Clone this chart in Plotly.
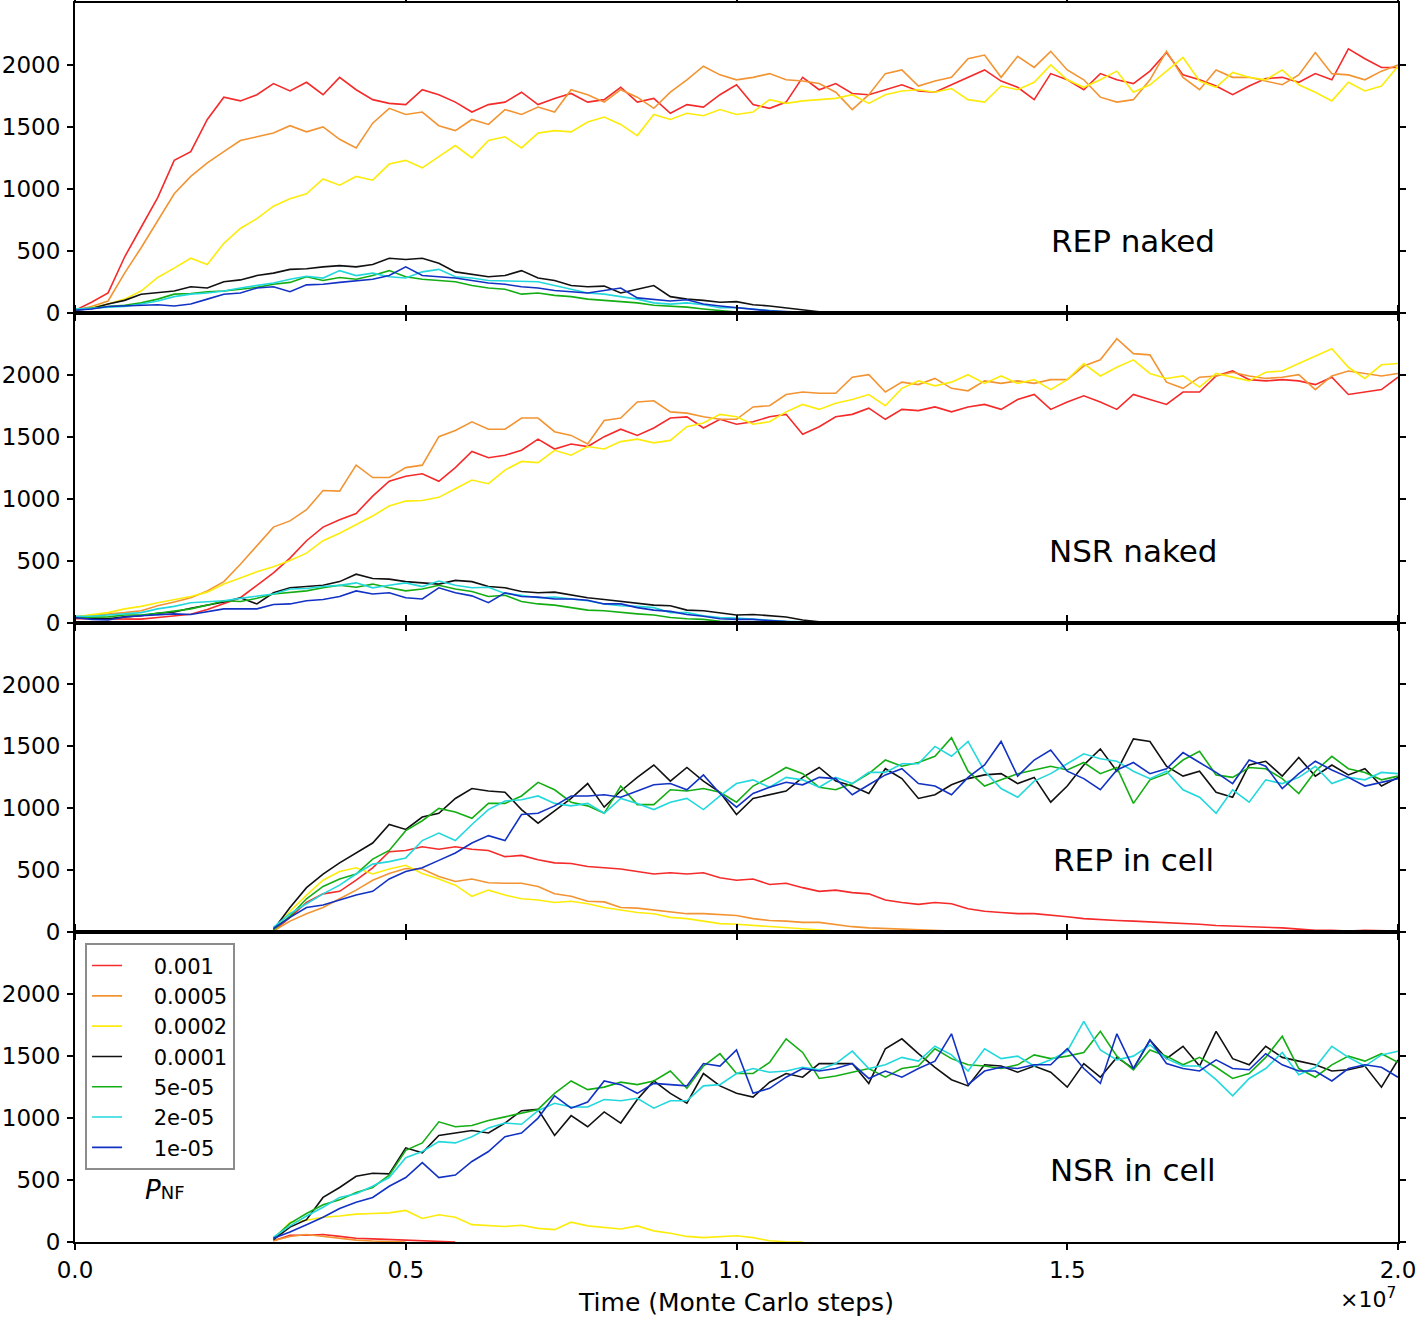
import numpy as np
import plotly.graph_objects as go
from plotly.subplots import make_subplots

# time axis in units of 1e7 Monte Carlo steps, one sample every 2.5e5 steps
TIME = np.round(np.arange(81) * 0.025, 3)
IN_CELL_START = 12   # in-cell runs start at 0.3e7 steps

P_LABELS = ['0.001', '0.0005', '0.0002', '0.0001', '5e-05', '2e-05', '1e-05']
COLORS = ['#f52a2a', '#f39433', '#fcec0c', '#111111', '#14ae14', '#22d8dc', '#1232c4']
PANEL_NAMES = ['REP naked', 'NSR naked', 'REP in cell', 'NSR in cell']
Y_TICKS = [0, 500, 1000, 1500, 2000]
X_TICKS = [0.0, 0.5, 1.0, 1.5, 2.0]

# ---- REP naked ----
rep_naked_001 = [20, 85, 160, 450, 690, 930, 1230, 1300, 1560, 1740,
                 1710, 1760, 1850, 1790, 1860, 1760, 1900, 1800, 1720, 1690,
                 1680, 1800, 1760, 1700, 1620, 1680, 1700, 1780, 1680, 1730,
                 1770, 1700, 1720, 1820, 1700, 1730, 1610, 1680, 1660, 1760,
                 1840, 1680, 1650, 1700, 1900, 1800, 1850, 1770, 1760, 1800,
                 1840, 1790, 1780, 1840, 1900, 1960, 1870, 1820, 1720, 1930,
                 1880, 1800, 1930, 1880, 1850, 1950, 2100, 1920, 1880, 1830,
                 1760, 1830, 1890, 1900, 1860, 1930, 1880, 2130, 2050, 1980,
                 1980]
rep_naked_0005 = [20, 50, 95, 320, 525, 740, 960, 1100, 1210, 1300,
                  1390, 1420, 1450, 1510, 1460, 1500, 1400, 1330, 1530, 1650,
                  1600, 1620, 1510, 1470, 1560, 1520, 1640, 1600, 1660, 1620,
                  1800, 1760, 1700, 1800, 1740, 1650, 1780, 1880, 1990, 1920,
                  1880, 1900, 1930, 1880, 1870, 1850, 1780, 1640, 1760, 1930,
                  1960, 1830, 1870, 1900, 2050, 2080, 1900, 2070, 1980, 2110,
                  1960, 1880, 1740, 1700, 1720, 1880, 2110, 1900, 1800, 1960,
                  1900, 1900, 1870, 1840, 1920, 2100, 1930, 1920, 1880, 1950,
                  2000]
rep_naked_0002 = [20, 40, 70, 110, 175, 285, 360, 440, 390, 560,
                  680, 760, 860, 920, 960, 1080, 1030, 1100, 1070, 1200,
                  1230, 1170, 1260, 1350, 1250, 1390, 1420, 1330, 1450, 1470,
                  1460, 1540, 1580, 1520, 1430, 1600, 1560, 1610, 1590, 1640,
                  1600, 1620, 1720, 1690, 1710, 1720, 1730, 1760, 1690, 1760,
                  1790, 1800, 1780, 1810, 1720, 1700, 1830, 1800, 1860, 2000,
                  1880, 1820, 1880, 1950, 1780, 1840, 1950, 2060, 1870, 1820,
                  1940, 1900, 1880, 1960, 1840, 1780, 1710, 1860, 1790, 1830,
                  1990]
rep_naked_0001 = [20, 35, 70, 100, 150, 160, 175, 210, 200, 250,
                  265, 300, 320, 350, 355, 370, 380, 370, 390, 440,
                  430, 440, 400, 330, 310, 290, 300, 340, 280, 260,
                  220, 210, 215, 160, 190, 220, 130, 110, 100, 85,
                  90, 65, 55, 40, 20, 8, 0]
rep_naked_5e5 = [30, 35, 50, 60, 80, 110, 150, 155, 170, 175,
                 190, 205, 230, 245, 290, 260, 285, 270, 300, 340,
                 290, 270, 260, 250, 220, 200, 190, 150, 160, 140,
                 130, 110, 100, 90, 80, 60, 55, 45, 30, 15,
                 5, 0]
rep_naked_2e5 = [30, 35, 40, 50, 70, 95, 130, 150, 160, 175,
                 200, 220, 240, 270, 295, 280, 340, 300, 320, 290,
                 280, 330, 350, 290, 280, 260, 255, 250, 250, 220,
                 190, 160, 150, 130, 110, 80, 70, 80, 65, 40,
                 40, 30, 15, 5, 0]
rep_naked_1e5 = [20, 30, 50, 55, 55, 65, 55, 70, 110, 150,
                 160, 200, 210, 170, 225, 230, 245, 255, 270, 300,
                 370, 300, 290, 280, 260, 240, 230, 210, 200, 180,
                 170, 160, 180, 200, 120, 110, 95, 105, 70, 55,
                 40, 25, 15, 10, 5, 0]

# ---- NSR naked ----
nsr_naked_001 = [30, 30, 30, 25, 27, 40, 55, 67, 105, 150,
                 200, 300, 400, 520, 660, 770, 830, 880, 1020, 1140,
                 1180, 1200, 1140, 1250, 1380, 1330, 1350, 1390, 1480, 1400,
                 1440, 1420, 1500, 1560, 1510, 1570, 1650, 1660, 1570, 1640,
                 1600, 1620, 1660, 1680, 1520, 1580, 1660, 1680, 1730, 1640,
                 1720, 1710, 1740, 1700, 1740, 1760, 1720, 1800, 1840, 1720,
                 1780, 1830, 1780, 1720, 1840, 1800, 1760, 1860, 1860, 1990,
                 2030, 1960, 1950, 1960, 1950, 1920, 1980, 1840, 1860, 1880,
                 1980]
nsr_naked_0005 = [45, 55, 65, 80, 95, 135, 165, 200, 255, 330,
                  470, 620, 770, 820, 910, 1065, 1060, 1270, 1170, 1170,
                  1250, 1270, 1500, 1550, 1620, 1560, 1560, 1650, 1650, 1540,
                  1510, 1440, 1630, 1650, 1780, 1790, 1700, 1690, 1660, 1640,
                  1640, 1740, 1750, 1840, 1860, 1850, 1850, 1980, 2000, 1860,
                  1940, 1920, 1970, 1890, 1870, 1950, 1930, 1950, 1930, 1960,
                  1960, 2070, 2120, 2290, 2170, 2160, 1940, 1890, 1980, 1990,
                  2020, 1990, 1970, 1980, 2000, 1880, 1990, 2030, 2010, 1990,
                  2010]
nsr_naked_0002 = [45, 60, 80, 110, 130, 160, 185, 210, 245, 310,
                  360, 410, 450, 500, 560, 660, 720, 790, 860, 940,
                  980, 985, 1010, 1080, 1150, 1120, 1230, 1300, 1290, 1390,
                  1350, 1420, 1400, 1460, 1480, 1450, 1470, 1580, 1610, 1680,
                  1660, 1600, 1620, 1700, 1760, 1720, 1770, 1800, 1840, 1750,
                  1890, 1950, 1910, 1940, 2000, 1930, 1990, 1930, 1960, 1880,
                  1960, 2090, 1990, 2060, 2120, 2010, 1970, 1990, 1900, 2010,
                  1980, 1950, 2020, 2030, 2090, 2150, 2210, 2060, 1970, 2080,
                  2090]
nsr_naked_0001 = [40, 35, 30, 45, 55, 75, 85, 115, 140, 165,
                  200, 150, 240, 280, 290, 300, 330, 390, 355, 350,
                  330, 320, 310, 340, 330, 290, 280, 250, 240, 245,
                  220, 200, 185, 170, 150, 140, 135, 100, 95, 75,
                  60, 65, 55, 45, 20, 5, 0]
nsr_naked_5e5 = [40, 40, 45, 60, 60, 75, 95, 110, 140, 175,
                 170, 195, 230, 240, 255, 280, 300, 285, 310, 280,
                 255, 270, 300, 270, 250, 210, 220, 170, 150, 140,
                 120, 100, 95, 80, 70, 60, 40, 30, 25, 10,
                 5, 0]
nsr_naked_2e5 = [50, 50, 60, 70, 80, 110, 130, 160, 170, 175,
                 195, 210, 230, 270, 275, 290, 300, 320, 280, 300,
                 320, 290, 335, 300, 280, 285, 235, 220, 200, 205,
                 190, 175, 150, 135, 130, 120, 80, 80, 55, 40,
                 35, 25, 20, 10, 5, 0]
nsr_naked_1e5 = [40, 25, 20, 45, 55, 65, 70, 65, 85, 110,
                 110, 110, 145, 150, 175, 185, 210, 255, 230, 240,
                 200, 190, 280, 240, 215, 160, 240, 210, 205, 190,
                 190, 180, 150, 150, 120, 100, 90, 65, 50, 30,
                 25, 25, 15, 10, 0]

# ---- REP in cell (from 0.3e7) ----
rep_cell_001 = [10, 120, 240, 310, 330, 420, 520, 650, 660, 690,
                670, 690, 670, 660, 610, 620, 585, 560, 555, 530,
                520, 510, 490, 470, 480, 470, 480, 440, 420, 430,
                385, 395, 360, 330, 340, 320, 310, 260, 240, 225,
                240, 230, 190, 170, 160, 150, 150, 140, 125, 110,
                100, 95, 90, 85, 80, 70, 65, 55, 50, 45,
                45, 35, 25, 15, 15, 10, 15, 10, 10]
rep_cell_0005 = [10, 90, 150, 200, 270, 340, 420, 475, 515, 510,
                 450, 410, 430, 400, 395, 395, 370, 310, 290, 250,
                 245, 200, 195, 180, 165, 150, 150, 140, 135, 110,
                 95, 90, 80, 80, 60, 45, 35, 30, 30, 25,
                 15, 10, 5, 0]
rep_cell_0002 = [15, 170, 300, 420, 490, 520, 470, 510, 540, 475,
                 430, 380, 290, 340, 300, 270, 260, 240, 250, 230,
                 200, 180, 160, 150, 120, 110, 90, 70, 65, 55,
                 50, 40, 30, 20, 10, 5, 0]
rep_cell_0001 = [20, 200, 360, 470, 560, 640, 720, 870, 830, 930,
                 960, 1080, 1160, 1140, 1130, 990, 880, 980, 1080, 1200,
                 1010, 1140, 1250, 1350, 1220, 1330, 1220, 1130, 950, 1080,
                 1110, 1140, 1250, 1330, 1220, 1180, 1120, 1320, 1240, 1080,
                 1110, 1190, 1240, 1270, 1280, 1200, 1250, 1050, 1180, 1350,
                 1480, 1300, 1560, 1540, 1340, 1260, 1300, 1130, 1090, 1350,
                 1380, 1260, 1410, 1260, 1350, 1270, 1320, 1180, 1250]
rep_cell_5e5 = [20, 130, 270, 370, 430, 470, 590, 660, 820, 900,
                1000, 970, 920, 1040, 1040, 1100, 1210, 1150, 1050, 1020,
                960, 1180, 1030, 1030, 1150, 1140, 1160, 1130, 1050, 1180,
                1250, 1330, 1280, 1170, 1150, 1200, 1280, 1390, 1340, 1370,
                1420, 1570, 1300, 1180, 1230, 1280, 1310, 1340, 1310, 1370,
                1280, 1330, 1040, 1230, 1280, 1390, 1460, 1270, 1250, 1330,
                1320, 1240, 1120, 1300, 1420, 1320, 1290, 1230, 1260]
rep_cell_2e5 = [40, 150, 230, 310, 380, 470, 550, 570, 600, 740,
                800, 740, 870, 990, 1060, 1070, 1100, 1040, 1020, 1040,
                960, 1080, 1040, 990, 1050, 1080, 990, 1100, 1200, 1230,
                1170, 1250, 1230, 1170, 1250, 1200, 1290, 1290, 1360, 1360,
                1500, 1420, 1540, 1300, 1160, 1090, 1220, 1280, 1360, 1440,
                1400, 1380, 1300, 1240, 1300, 1150, 1090, 960, 1150, 1050,
                1230, 1200, 1250, 1340, 1200, 1250, 1230, 1290, 1280]
rep_cell_1e5 = [30, 120, 200, 220, 260, 300, 330, 430, 490, 520,
                580, 640, 720, 780, 740, 950, 960, 1020, 1100, 1100,
                1110, 1090, 1140, 1190, 1200, 1150, 1270, 1120, 1010, 1120,
                1170, 1210, 1190, 1250, 1240, 1110, 1190, 1270, 1320, 1200,
                1180, 1110, 1250, 1350, 1540, 1260, 1390, 1470, 1300, 1240,
                1150, 1310, 1370, 1280, 1320, 1450, 1370, 1290, 1200, 1390,
                1340, 1160, 1280, 1380, 1310, 1250, 1180, 1210, 1240]

# ---- NSR in cell (from 0.3e7) ----
nsr_cell_001 = [10, 55, 55, 60, 45, 30, 25, 20, 15, 10, 5, 0]
nsr_cell_0005 = [10, 45, 60, 45, 25, 15, 8, 5, 0]
nsr_cell_0002 = [20, 160, 175, 200, 210, 225, 230, 235, 255, 190,
                 220, 200, 140, 130, 125, 135, 110, 100, 160, 130,
                 120, 105, 130, 90, 70, 45, 35, 40, 50, 35,
                 10, 2, 0]
nsr_cell_0001 = [20, 120, 180, 360, 440, 530, 555, 550, 760, 720,
                 860, 880, 900, 880, 960, 1060, 1070, 860, 1020, 930,
                 1050, 960, 1150, 1300, 1200, 1120, 1360, 1260, 1200, 1170,
                 1290, 1360, 1330, 1440, 1440, 1440, 1280, 1560, 1640, 1520,
                 1410, 1310, 1260, 1430, 1420, 1370, 1420, 1370, 1250, 1440,
                 1330, 1490, 1400, 1630, 1480, 1580, 1420, 1700, 1480, 1430,
                 1580, 1490, 1460, 1430, 1380, 1390, 1420, 1250, 1470]
nsr_cell_5e5 = [30, 150, 230, 300, 340, 400, 440, 540, 740, 800,
                970, 930, 940, 980, 1010, 1040, 1070, 1200, 1300, 1230,
                1250, 1290, 1270, 1300, 1380, 1240, 1420, 1520, 1360, 1360,
                1450, 1640, 1530, 1320, 1340, 1370, 1400, 1330, 1400, 1420,
                1560, 1480, 1430, 1420, 1400, 1430, 1510, 1480, 1500, 1530,
                1700, 1500, 1390, 1550, 1500, 1430, 1490, 1410, 1320, 1360,
                1490, 1660, 1400, 1330, 1430, 1500, 1460, 1520, 1450]
nsr_cell_2e5 = [40, 130, 210, 280, 360, 390, 450, 520, 680, 730,
                810, 800, 850, 920, 960, 950, 1060, 1120, 1090, 1090,
                1150, 1140, 1160, 1080, 1140, 1140, 1260, 1270, 1360, 1400,
                1370, 1380, 1410, 1390, 1440, 1540, 1400, 1430, 1490, 1460,
                1580, 1510, 1380, 1560, 1480, 1500, 1420, 1470, 1540, 1780,
                1550, 1470, 1500, 1590, 1480, 1420, 1420, 1310, 1180, 1320,
                1400, 1530, 1350, 1410, 1580, 1490, 1420, 1510, 1540]
nsr_cell_1e5 = [30, 80, 140, 200, 270, 320, 360, 450, 520, 640,
                520, 540, 650, 730, 850, 880, 1000, 1180, 1080, 1130,
                1300, 1270, 1200, 1280, 1270, 1260, 1440, 1420, 1550, 1200,
                1240, 1330, 1400, 1380, 1400, 1440, 1320, 1380, 1330, 1400,
                1460, 1680, 1270, 1380, 1410, 1400, 1430, 1430, 1560, 1400,
                1280, 1680, 1400, 1630, 1440, 1400, 1380, 1470, 1400, 1390,
                1520, 1430, 1380, 1380, 1300, 1400, 1430, 1410, 1330]

PANELS = [
    (0, [rep_naked_001, rep_naked_0005, rep_naked_0002, rep_naked_0001,
         rep_naked_5e5, rep_naked_2e5, rep_naked_1e5]),
    (0, [nsr_naked_001, nsr_naked_0005, nsr_naked_0002, nsr_naked_0001,
         nsr_naked_5e5, nsr_naked_2e5, nsr_naked_1e5]),
    (IN_CELL_START, [rep_cell_001, rep_cell_0005, rep_cell_0002, rep_cell_0001,
                     rep_cell_5e5, rep_cell_2e5, rep_cell_1e5]),
    (IN_CELL_START, [nsr_cell_001, nsr_cell_0005, nsr_cell_0002, nsr_cell_0001,
                     nsr_cell_5e5, nsr_cell_2e5, nsr_cell_1e5]),
]

FONT = 'DejaVu Sans'
PAD = '\u00a0' * 4   # gap between legend line and label

fig = make_subplots(rows=4, cols=1, shared_xaxes=True, vertical_spacing=0)

for row, (start, series) in enumerate(PANELS, start=1):
    for label, color, values in zip(P_LABELS, COLORS, series):
        fig.add_trace(go.Scatter(
            x=TIME[start:start + len(values)],
            y=values,
            mode='lines',
            name=PAD + label,
            legendgroup=label,
            showlegend=(row == 1),
            line=dict(color=color, width=1.6),
        ), row=row, col=1)

    # panel label
    fig.add_annotation(
        x=1.6, y=580, xref='x' if row == 1 else 'x%d' % row,
        yref='y' if row == 1 else 'y%d' % row,
        text=PANEL_NAMES[row - 1], showarrow=False,
        font=dict(family=FONT, size=31, color='black'),
    )

axis_style = dict(
    showline=True, linecolor='black', linewidth=2, mirror='allticks',
    ticks='outside', ticklen=6, tickwidth=1.5, tickcolor='black',
    showgrid=False, zeroline=False, automargin=False,
    tickfont=dict(family=FONT, size=23, color='black'),
)
fig.update_yaxes(range=[0, 2500], tickvals=Y_TICKS, ticklabelstandoff=2, **axis_style)
fig.update_xaxes(range=[0, 2.0], tickvals=X_TICKS, tickformat='.1f', **axis_style)
fig.update_xaxes(
    title=dict(text='Time (Monte Carlo steps)', standoff=12,
               font=dict(family=FONT, size=25, color='black')),
    row=4, col=1,
)

# P_NF caption under the legend
fig.add_annotation(
    x=0.136, y=420, xref='x4', yref='y4', showarrow=False,
    text='<i>P</i><span style="font-size:18px">NF</span>',
    font=dict(family=FONT, size=26, color='black'),
)
# offset text of the x axis
fig.add_annotation(
    x=1.0, y=-0.045, xref='paper', yref='paper', xanchor='right', yanchor='middle',
    showarrow=False, text='×10<sup>7</sup>',
    font=dict(family=FONT, size=22, color='black'),
)

fig.update_layout(
    width=1418, height=1317,
    margin=dict(l=75, r=20, t=3, b=75),
    paper_bgcolor='white', plot_bgcolor='white',
    font=dict(family=FONT, color='black'),
    legend=dict(
        x=0.0076, y=0.241, xanchor='left', yanchor='top',
        bordercolor='#8c8c8c', borderwidth=2, bgcolor='white',
        font=dict(family=FONT, size=21, color='black'),
        itemwidth=30, tracegroupgap=0,
    ),
)

# the page body has a default 8px margin; drop it so the figure fills the window
fig.write_html("out.html", config={'displayModeBar': False},
               post_script="document.body.style.margin='0';")
